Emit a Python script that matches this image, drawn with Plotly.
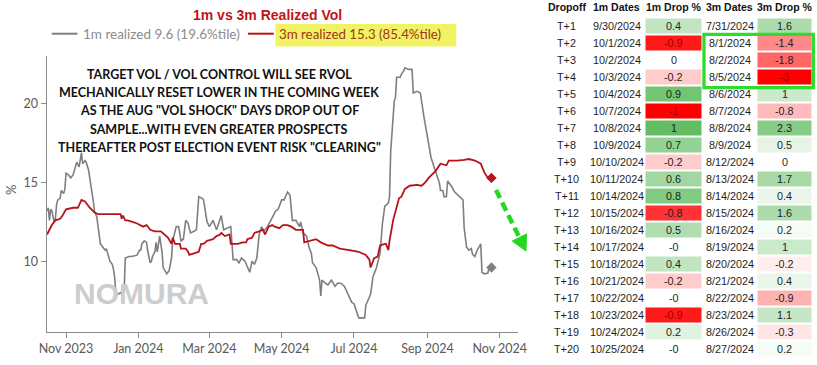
import plotly.graph_objects as go

# ---------------- data ----------------
m1_dates = ["2023-10-16","2023-10-17","2023-10-18","2023-10-19","2023-10-20","2023-10-22","2023-10-23","2023-10-24",
"2023-10-25","2023-10-27","2023-10-28","2023-10-30","2023-10-31","2023-11-01","2023-11-03","2023-11-05","2023-11-07",
"2023-11-08","2023-11-10","2023-11-12","2023-11-14","2023-11-15","2023-11-17","2023-11-18","2023-11-20","2023-11-21",
"2023-11-23","2023-11-24","2023-11-25","2023-11-27","2023-11-28","2023-11-30","2023-12-02","2023-12-04","2023-12-05",
"2023-12-07","2023-12-08","2023-12-10","2023-12-11","2023-12-12","2023-12-13","2023-12-15","2023-12-17","2023-12-18",
"2023-12-19","2023-12-20","2023-12-21","2023-12-24","2023-12-26","2023-12-29","2023-12-31","2024-01-02","2024-01-03",
"2024-01-04","2024-01-06","2024-01-08","2024-01-09","2024-01-11","2024-01-12","2024-01-13","2024-01-15","2024-01-16",
"2024-01-17","2024-01-19","2024-01-21","2024-01-22","2024-01-25","2024-01-27","2024-01-29","2024-01-30","2024-02-02",
"2024-02-04","2024-02-06","2024-02-08","2024-02-10","2024-02-12","2024-02-14","2024-02-17","2024-02-19","2024-02-21",
"2024-02-24","2024-02-25","2024-02-27","2024-02-28","2024-03-01","2024-03-04","2024-03-07","2024-03-09","2024-03-11",
"2024-03-13","2024-03-16","2024-03-19","2024-03-21","2024-03-24","2024-03-26","2024-03-28","2024-03-31","2024-04-02",
"2024-04-04","2024-04-06","2024-04-08","2024-04-10","2024-04-11","2024-04-12","2024-04-14","2024-04-16","2024-04-19",
"2024-04-22","2024-04-23","2024-04-26","2024-04-28","2024-05-01","2024-05-03","2024-05-06","2024-05-08","2024-05-09",
"2024-05-10","2024-05-13","2024-05-16","2024-05-17","2024-05-19","2024-05-22","2024-05-24","2024-05-26","2024-05-27",
"2024-05-30","2024-06-02","2024-06-03","2024-06-04","2024-06-07","2024-06-09","2024-06-12","2024-06-15","2024-06-17",
"2024-06-20","2024-06-23","2024-06-26","2024-06-29","2024-07-01","2024-07-03","2024-07-05","2024-07-07","2024-07-10",
"2024-07-11","2024-07-13","2024-07-15","2024-07-17","2024-07-20","2024-07-23","2024-07-25","2024-07-27","2024-07-30",
"2024-07-31","2024-08-01","2024-08-04","2024-08-05","2024-08-06","2024-08-09","2024-08-10","2024-08-12","2024-08-13",
"2024-08-16","2024-08-19","2024-08-20","2024-08-23","2024-08-26","2024-08-29","2024-09-01","2024-09-04","2024-09-07",
"2024-09-09","2024-09-11","2024-09-12","2024-09-14","2024-09-15","2024-09-17","2024-09-18","2024-09-21","2024-09-24",
"2024-09-28","2024-10-01","2024-10-02","2024-10-04","2024-10-06","2024-10-08","2024-10-09","2024-10-11","2024-10-13",
"2024-10-16","2024-10-17","2024-10-19","2024-10-22","2024-10-23","2024-10-25"]
m1_vals = [13.2,13.4,12.6,13.3,13.2,12.5,12.7,13.6,13.9,14.0,14.5,14.3,14.6,15.6,15.5,15.3,15.5,15.8,16.3,16.0,16.9,
16.2,16.4,16.3,15.8,15.3,14.4,13.8,13.2,12.8,12.2,11.1,10.9,10.7,10.8,10.2,10.0,9.8,9.5,9.0,8.0,7.9,8.0,7.9,8.2,8.1,
10.2,10.3,10.3,10.35,10.4,10.7,10.7,11.1,11.3,11.2,10.6,9.9,10.0,10.3,10.6,11.2,10.6,11.6,10.6,9.6,9.2,9.4,10.2,11.3,
12.2,12.2,11.3,11.4,12.6,12.4,11.8,11.9,12.0,14.1,14.0,13.9,13.1,12.5,12.2,12.6,12.0,12.5,12.9,12.0,12.1,12.2,10.1,
10.1,9.9,10.2,10.0,9.7,9.3,10.0,9.8,10.2,10.9,11.7,12.2,11.9,12.2,12.6,12.8,13.2,13.3,13.9,13.9,14.4,14.2,13.2,12.6,
12.6,12.2,12.5,11.8,11.6,10.9,10.5,9.9,9.6,8.8,7.8,8.8,8.6,8.5,8.8,8.4,8.6,8.6,8.4,7.9,7.4,7.3,6.9,6.4,6.4,6.4,7.2,
7.5,7.9,9.0,9.6,10.5,12.4,13.5,13.7,14.1,17.0,20.2,20.4,21.7,21.7,21.9,22.1,22.3,22.2,22.2,20.7,20.8,20.7,19.2,17.9,
16.6,15.9,15.5,15.0,14.5,14.5,14.1,14.1,15.1,14.8,14.4,14.1,13.9,12.1,10.9,10.7,10.8,10.45,10.3,10.7,11.1,9.3,9.2,
9.25,9.6,9.6]

m3_dates = ["2023-10-16","2023-10-20","2023-10-23","2023-10-27","2023-10-29","2023-11-01","2023-11-07","2023-11-11",
"2023-11-14","2023-11-17","2023-11-21","2023-11-25","2023-11-28","2023-12-17","2023-12-18","2023-12-19","2023-12-21",
"2023-12-23","2023-12-27","2023-12-31","2024-01-05","2024-01-08","2024-01-11","2024-01-15","2024-01-20","2024-01-23",
"2024-01-26","2024-01-29","2024-01-30","2024-02-01","2024-02-05","2024-02-06","2024-02-10","2024-02-12","2024-02-13",
"2024-02-17","2024-02-21","2024-02-23","2024-02-25","2024-02-28","2024-03-04","2024-03-07","2024-03-10","2024-03-11",
"2024-03-14","2024-03-18","2024-03-19","2024-03-25","2024-03-29","2024-04-01","2024-04-02","2024-04-06","2024-04-08",
"2024-04-12","2024-04-15","2024-04-17","2024-04-20","2024-04-23","2024-04-25","2024-04-29","2024-05-02","2024-05-06",
"2024-05-09","2024-05-13","2024-05-19","2024-05-20","2024-05-24","2024-05-30","2024-06-03","2024-06-09","2024-06-13",
"2024-06-19","2024-06-27","2024-07-05","2024-07-11","2024-07-14","2024-07-15","2024-07-18","2024-07-21","2024-07-23",
"2024-07-27","2024-07-28","2024-07-30","2024-07-31","2024-08-03","2024-08-05","2024-08-08","2024-08-10","2024-08-13",
"2024-08-17","2024-08-23","2024-08-27","2024-08-30","2024-09-02","2024-09-05","2024-09-08","2024-09-12","2024-09-17",
"2024-09-19","2024-09-26","2024-10-02","2024-10-06","2024-10-11","2024-10-16","2024-10-19","2024-10-22","2024-10-25"]
m3_vals = [11.7,12.3,12.6,12.7,12.9,13.3,13.4,13.4,13.9,13.8,13.4,13.1,13.0,13.0,12.7,12.9,12.6,12.6,12.5,12.4,12.2,
12.3,12.0,11.9,11.9,11.7,11.5,11.1,11.5,11.1,11.1,10.8,10.8,10.6,10.4,10.5,10.6,11.1,11.1,11.3,11.4,11.6,11.7,11.8,
11.6,11.7,11.1,11.1,11.2,11.2,11.4,11.5,11.8,11.9,12.0,11.7,12.2,12.3,12.2,12.1,12.3,12.3,12.2,12.0,12.0,11.2,11.3,
11.4,11.2,11.0,11.0,10.8,10.7,10.6,10.4,10.1,9.6,10.2,10.3,11.0,11.1,11.1,10.7,11.3,12.6,13.2,14.0,14.1,14.6,14.8,
14.85,14.8,15.0,15.3,15.5,15.75,16.2,16.1,16.4,16.4,16.45,16.5,16.4,16.2,15.65,15.3,15.3]

m1_name = "1m realized 9.6 (19.6%tile)"
m3_name = "3m realized 15.3 (85.4%tile)"
y_ticks = [10, 15, 20]

tbl_header = ["Dropoff", "1m Dates", "1m Drop %", "3m Dates", "3m Drop %"]
tbl_dropoff = ["T+%d" % i for i in range(1, 21)]
tbl_1m_dates = ["9/30/2024","10/1/2024","10/2/2024","10/3/2024","10/4/2024","10/7/2024","10/8/2024","10/9/2024",
"10/10/2024","10/11/2024","10/14/2024","10/15/2024","10/16/2024","10/17/2024","10/18/2024","10/21/2024",
"10/22/2024","10/23/2024","10/24/2024","10/25/2024"]
tbl_1m_drop = ["0.4","-0.9","0","-0.2","0.9","-1","1","0.7","-0.2","0.6","0.8","-0.8","0.5","-0","0.4","-0.2",
"-0","-0.9","0.2","-0"]
tbl_3m_dates = ["7/31/2024","8/1/2024","8/2/2024","8/5/2024","8/6/2024","8/7/2024","8/8/2024","8/9/2024",
"8/12/2024","8/13/2024","8/14/2024","8/15/2024","8/16/2024","8/19/2024","8/20/2024","8/21/2024","8/22/2024",
"8/23/2024","8/26/2024","8/27/2024"]
tbl_3m_drop = ["1.6","-1.4","-1.8","-3","1","-0.8","2.3","0.5","0","1.7","0.4","1.6","0.2","1","-0.2","0.4",
"-0.9","1.1","-0.3","0.2"]

# ---------------- helpers ----------------
W, H = 817, 365
def px(x): return x / W
def py(y): return 1 - y / H

GREEN_FULL = (99, 190, 99)
RED_FULL = (255, 0, 0)

def scale_color(v, vmax):
    t = min(1.0, abs(v) / vmax)
    base = RED_FULL if v < 0 else GREEN_FULL
    r = round(255 + (base[0] - 255) * t)
    g = round(255 + (base[1] - 255) * t)
    b = round(255 + (base[2] - 255) * t)
    return "rgb(%d,%d,%d)" % (r, g, b)

def text_color(v, vmax):
    return "#9a0000" if (v < 0 and abs(v) / vmax >= 0.85) else "#1e1e1e"

GRAY = "#7f7f7f"
RED = "#b8121b"

fig = go.Figure()
fig.add_trace(go.Scatter(x=m1_dates, y=m1_vals, mode="lines", name=m1_name,
                         line=dict(color=GRAY, width=1.6), showlegend=False))
fig.add_trace(go.Scatter(x=m3_dates, y=m3_vals, mode="lines", name=m3_name,
                         line=dict(color=RED, width=1.8), showlegend=False))
fig.add_trace(go.Scatter(x=[m1_dates[-1]], y=[m1_vals[-1]], mode="markers",
                         marker=dict(symbol="diamond", size=8, color=GRAY), showlegend=False))
fig.add_trace(go.Scatter(x=[m3_dates[-1]], y=[m3_vals[-1]], mode="markers",
                         marker=dict(symbol="diamond", size=8, color=RED), showlegend=False))

axis_col = "#8c8c8c"
tick_font = dict(family="Lato", size=12.5, color="#595959")
fig.update_layout(
    width=W, height=H,
    margin=dict(l=0, r=0, t=0, b=0),
    paper_bgcolor="white", plot_bgcolor="white",
    showlegend=False,
    xaxis=dict(domain=[px(46.5), px(518)], type="date",
               range=["2023-10-15 12:00", "2024-11-16 10:00"],
               tick0="2023-11-01", dtick="M2", tickformat="%b %Y",
               showgrid=False, zeroline=False, showline=True, linecolor=axis_col, linewidth=1,
               ticks="outside", ticklen=5, tickcolor=axis_col, tickfont=tick_font, automargin=False),
    yaxis=dict(domain=[py(332), py(56)], range=[5.5, 23.05], tickvals=y_ticks,
               showgrid=False, zeroline=False, showline=True, linecolor=axis_col, linewidth=1,
               ticks="outside", ticklen=5, tickcolor=axis_col, tickfont=tick_font, automargin=False),
)

# arrow geometry (pixels)
tail = (496, 190)
tip = (526, 251)
dx, dy = tip[0] - tail[0], tip[1] - tail[1]
L = (dx * dx + dy * dy) ** 0.5
ux, uy = dx / L, dy / L
hl, hw = 15, 8
bx, by = tip[0] - hl * ux, tip[1] - hl * uy
c1 = (bx + hw * uy, by - hw * ux)
c2 = (bx - hw * uy, by + hw * ux)

shapes = [
    dict(type="line", xref="paper", yref="paper", x0=px(51.7), x1=px(77.5), y0=py(33.7), y1=py(33.7),
         line=dict(color=GRAY, width=2)),
    dict(type="rect", xref="paper", yref="paper", x0=px(275.5), x1=px(456.3), y0=py(46.5), y1=py(24),
         fillcolor="#f0f464", line=dict(width=0), layer="below"),
    dict(type="line", xref="paper", yref="paper", x0=px(248), x1=px(273.8), y0=py(33.7), y1=py(33.7),
         line=dict(color=RED, width=2)),
    dict(type="line", xref="paper", yref="paper", x0=px(tail[0]), x1=px(bx), y0=py(tail[1]), y1=py(by),
         line=dict(color="#22d822", width=4.5, dash="9px,5px")),
    dict(type="path", xref="paper", yref="paper",
         path="M %f %f L %f %f L %f %f Z" % (px(tip[0]), py(tip[1]), px(c1[0]), py(c1[1]), px(c2[0]), py(c2[1])),
         fillcolor="#22d822", line=dict(color="#22d822", width=1)),
]

ann = [
    dict(text="<b>1m vs 3m Realized Vol</b>", x=px(267.6), y=py(15.5), xanchor="center", yanchor="middle",
         font=dict(family="Liberation Sans", size=14, color="#c0141c")),
    dict(text=m1_name, x=px(81), y=py(34), xanchor="left", yanchor="middle",
         font=dict(family="Lato", size=13.5, color="#8c8c8c")),
    dict(text=m3_name, x=px(277), y=py(34), xanchor="left", yanchor="middle",
         font=dict(family="Lato", size=13.3, color="#a8321a")),
    dict(text="%", x=px(11), y=py(190), xanchor="center", yanchor="middle", textangle=-90,
         font=dict(family="Lato", size=13, color="#595959")),
    dict(text="<b>NOMURA</b>", x=px(141), y=py(293), xanchor="center", yanchor="middle",
         font=dict(family="Liberation Sans", size=30, color="#cdcdcd")),
]
lines = ["TARGET VOL / VOL CONTROL WILL SEE RVOL",
         "MECHANICALLY RESET LOWER IN THE COMING WEEK",
         "AS THE AUG \"VOL SHOCK\" DAYS DROP OUT OF",
         "SAMPLE...WITH EVEN GREATER PROSPECTS",
         "THEREAFTER POST ELECTION EVENT RISK \"CLEARING\""]
for i, t in enumerate(lines):
    ann.append(dict(text="<b>%s</b>" % t, x=px(219.5), y=py(75 + 18 * i), xanchor="center", yanchor="middle",
                    font=dict(family="Lato", size=12.5, color="#111111")))

# ---------------- table (drawn from the lists) ----------------
col_edges = [545, 588, 645, 702, 757, 812]
col_centers = [(col_edges[i] + col_edges[i + 1]) / 2 for i in range(5)]
header_y = 7.5
row_top0, row_h = 17.5, 17.0

for j, h in enumerate(tbl_header):
    ann.append(dict(text="<b>%s</b>" % h, x=px(col_centers[j]), y=py(header_y), xanchor="center",
                    yanchor="middle", font=dict(family="Liberation Sans", size=10.5, color="#111111")))

columns = [tbl_dropoff, tbl_1m_dates, tbl_1m_drop, tbl_3m_dates, tbl_3m_drop]
scales = {2: 1.0, 4: 3.0}
for j, col in enumerate(columns):
    for i, txt in enumerate(col):
        yc = row_top0 + row_h * i + row_h / 2
        color = "#1e1e1e"
        if j in scales:
            v = float(txt)
            color = text_color(v, scales[j])
            if v != 0:
                shapes.append(dict(type="rect", xref="paper", yref="paper",
                                   x0=px(col_edges[j] + 0.5), x1=px(col_edges[j + 1] - 0.5),
                                   y0=py(row_top0 + row_h * (i + 1) - 1), y1=py(row_top0 + row_h * i + 1),
                                   fillcolor=scale_color(v, scales[j]), line=dict(width=0), layer="below"))
        ann.append(dict(text=txt, x=px(col_centers[j]), y=py(yc), xanchor="center", yanchor="middle",
                        font=dict(family="Liberation Sans", size=10.8, color=color)))

shapes.append(dict(type="rect", xref="paper", yref="paper", x0=px(704), x1=px(813.3), y0=py(87.7), y1=py(34.3),
                   line=dict(color="#2edc2e", width=3.3)))

for a in ann:
    a.update(xref="paper", yref="paper", showarrow=False)
fig.update_layout(shapes=shapes, annotations=ann)

fig.write_html("out.html", config={"displayModeBar": False},
               post_script="document.body.style.margin='0px';document.body.style.overflow='hidden';")
